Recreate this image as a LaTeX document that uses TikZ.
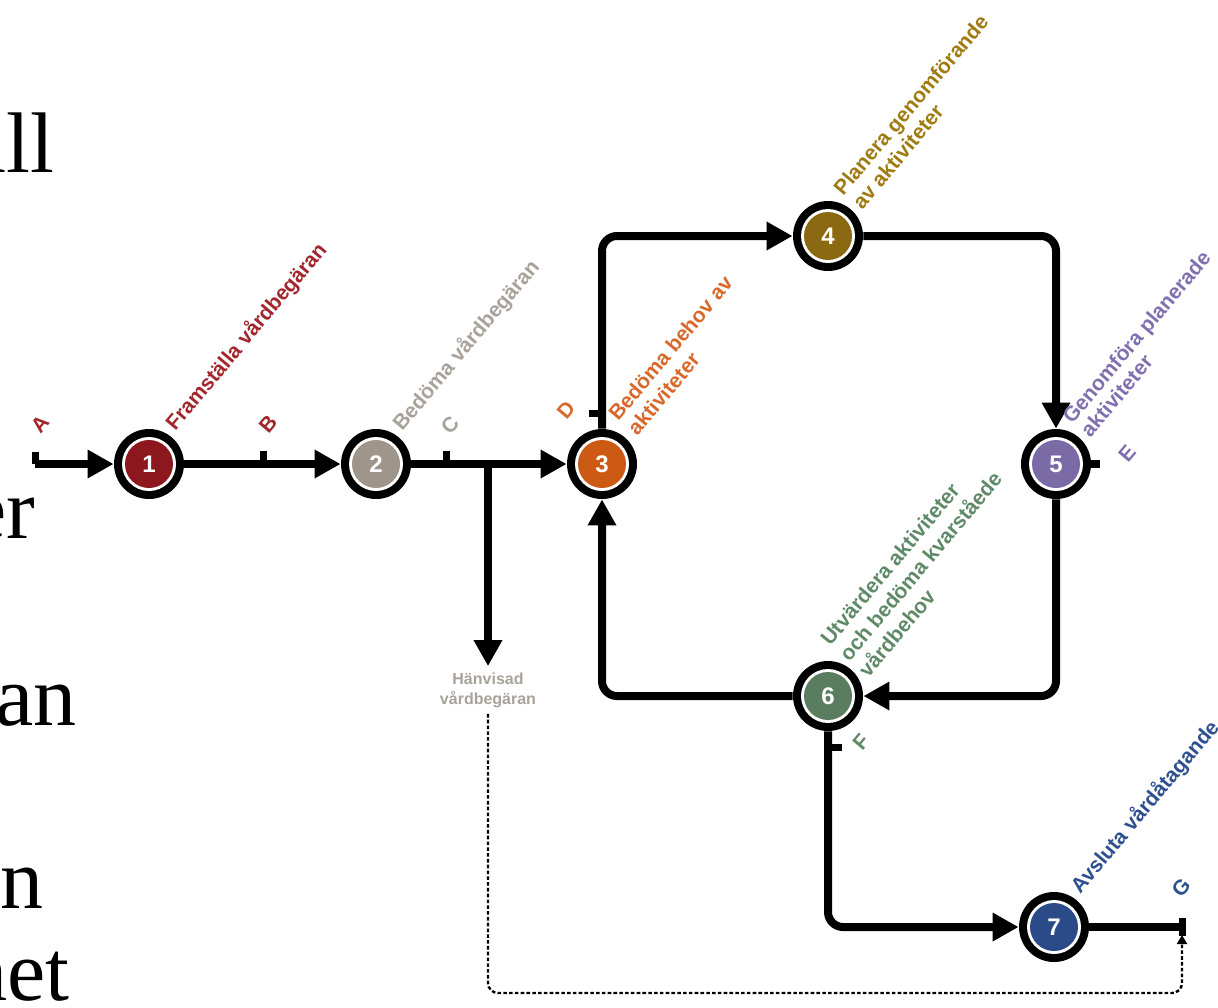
\documentclass[tikz,border=0pt]{standalone}
\usepackage{fontspec}
\setmainfont{Liberation Sans}
\newfontfamily\serifbig{Liberation Serif}
\usetikzlibrary{arrows.meta,calc}
\definecolor{f1}{HTML}{8C171C}
\definecolor{f2}{HTML}{9E968B}
\definecolor{f3}{HTML}{CC5A14}
\definecolor{f4}{HTML}{8B6812}
\definecolor{f5}{HTML}{7A6AA6}
\definecolor{f6}{HTML}{5B7D5F}
\definecolor{f7}{HTML}{2A4A88}
\definecolor{t1}{HTML}{A3262C}
\definecolor{t2}{HTML}{A8A29A}
\definecolor{t3}{HTML}{D8692A}
\definecolor{t4}{HTML}{A07B12}
\definecolor{t5}{HTML}{8070B0}
\definecolor{t6}{HTML}{5F8A68}
\definecolor{t7}{HTML}{2F5090}
\tikzset{
  stage/.style={circle, inner sep=0pt, minimum size=35pt, fill=black, text=white,
    font=\bfseries\fontsize{12}{12}\selectfont,
    path picture={\fill[white] (path picture bounding box.center) circle (13.5pt);
                  \fill[#1] (path picture bounding box.center) circle (12pt);}},
  conn/.style={line width=4pt, rounded corners=7.5pt, -{Triangle[length=13pt,width=13.5pt]}},
  plain/.style={line width=4pt, rounded corners=7.5pt},
  tickmark/.style={line width=3.5pt},
  lbl/.style={font=\bfseries\fontsize{10.5}{12}\selectfont, rotate=50, anchor=base west, inner sep=0pt},
  ltr/.style={font=\bfseries\fontsize{10.5}{10.5}\selectfont, rotate=50, inner sep=0pt},
  dots/.style={line width=1.2pt, dash pattern=on 1.8pt off 1.1pt, rounded corners=5pt,
    -{Triangle[length=4.5pt,width=5pt]}},
  big/.style={font=\serifbig\fontsize{43}{43}\selectfont, anchor=base east, inner sep=0pt},
}
\begin{document}
\begin{tikzpicture}[x=0.5pt,y=-0.5pt]
\useasboundingbox (0,0) rectangle (1218,1007);
\clip (0,0) rectangle (1218,1007);
\fill[white] (0,0) rectangle (1218,1007);

% cut-off slide text at the left edge
\node[big] (w1) at (55,172) {ull};
\node[big] (w2) at (36,538) {er};
\node[big] (w3) at (77,725) {an};
\node[big] (w4) at (44,908) {en};
\node[big] (w5) at (70,1000) {het};

% stages
\node[stage=f1] (n1) at (149,464) {1};
\node[stage=f2] (n2) at (376,464) {2};
\node[stage=f3] (n3) at (602,464) {3};
\node[stage=f4] (n4) at (828,236) {4};
\node[stage=f5] (n5) at (1056,464) {5};
\node[stage=f6] (n6) at (828,696) {6};
\node[stage=f7] (n7) at (1054,927) {7};

\node[font=\bfseries\fontsize{8}{10}\selectfont, text=t2, align=center, inner sep=3pt]
  (hv) at (488,690) {Hänvisad\\vårdbegäran};

% helper coordinates
\coordinate (a0) at (35,464);
\coordinate (tb) at (263,464);
\coordinate (tc) at (446,464);
\coordinate (br) at (488,464);
\coordinate (td) at (602,413);
\coordinate (e0) at (1100,464);
\coordinate (tf) at (828,747);
\coordinate (g) at (1182,927);
\coordinate (gb) at (1182,935);
\coordinate (dc) at (1182,993);

% connectors
\draw[conn] (a0) -- (n1);
\draw[conn] (n1) -- (n2);
\draw[conn] (n2) -- (n3);
\draw[conn] (br) -- (hv);
\draw[conn] (n3) |- (n4);
\draw[conn] (n4) -| (n5);
\draw[conn] (n5) |- (n6);
\draw[conn] (n6) -| (n3);
\draw[conn] (n6) |- (n7);
\draw[plain] (n7) -- (g);
\draw[plain] (n5) -- (e0);
\draw[dots] (hv) |- (dc) -- (gb);

% ticks
\draw[tickmark] (a0) -- ++(0,-12);
\draw[tickmark] (tb) -- ++(0,-13);
\draw[tickmark] (tc) -- ++(0,-13);
\draw[tickmark] (td) -- ++(-13,0);
\draw[tickmark] (tf) -- ++(14,0);
\draw[tickmark] ($(g)+(0,-9)$) -- ($(g)+(0,9)$);

% letters
\node[ltr, text=t1] (la) at (40,424) {A};
\node[ltr, text=t1] (lb) at (268,424) {B};
\node[ltr, text=t2] (lc) at (450,425) {C};
\node[ltr, text=t3] (ld) at (566,410) {D};
\node[ltr, text=t5] (le) at (1127,453) {E};
\node[ltr, text=t6] (lf) at (861,742) {F};
\node[ltr, text=t7] (lg) at (1181,888) {G};

% stage labels
\node[lbl, text=t1] (s1) at (175,432) {Framställa vårdbegäran};
\node[lbl, text=t2] (s2) at (402,432) {Bedöma vårdbegäran};
\node[lbl, text=t3] (s3a) at (618,422) {Bedöma behov av};
\node[lbl, text=t3] (s3b) at (637,437) {aktiviteter};
\node[lbl, text=t4] (s4a) at (843,197) {Planera genomförande};
\node[lbl, text=t4] (s4b) at (862,211) {av aktiviteter};
\node[lbl, text=t5] (s5a) at (1072,425) {Genomföra planerade};
\node[lbl, text=t5] (s5b) at (1090,439) {aktiviteter};
\node[lbl, text=t6] (s6a) at (830,647) {Utvärdera aktiviteter};
\node[lbl, text=t6] (s6b) at (849,663) {och bedöma kvarståede};
\node[lbl, text=t6] (s6c) at (868,679) {vårdbehov};
\node[lbl, text=t7] (s7) at (1080,895) {Avsluta vårdåtagande};
\end{tikzpicture}
\end{document}
